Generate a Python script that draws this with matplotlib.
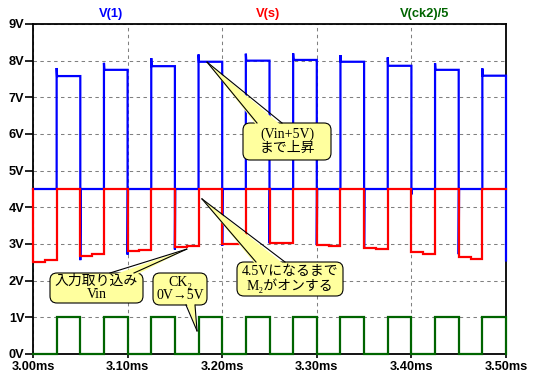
import matplotlib
matplotlib.use('Agg')
import matplotlib.pyplot as plt
from matplotlib.patches import FancyBboxPatch, Polygon
from matplotlib.lines import Line2D
from matplotlib.transforms import IdentityTransform

# ---------------- data ----------------
t_start, t_end = 3.00, 3.50
clk_rise = [3.025, 3.075, 3.125, 3.175, 3.225, 3.275, 3.325, 3.375, 3.425, 3.475]
clk_fall = [3.050, 3.100, 3.150, 3.200, 3.250, 3.300, 3.350, 3.400, 3.450, 3.500]

# V(s): sampled input level while CK2 is low (start / end of each low interval)
vin_start = [2.52, 2.68, 2.82, 2.93, 3.00, 3.02, 2.975, 2.90, 2.78, 2.64]
vin_end   = [2.56, 2.73, 2.85, 2.95, 3.00, 3.02, 2.955, 2.87, 2.74, 2.58]
vs_high = 4.5

# V(1): overshoot peak and plateau while CK2 is high, dip at falling edge
v1_spike   = [7.80, 7.94, 8.07, 8.17, 8.19, 8.20, 8.15, 8.09, 7.93, 7.79]
v1_plateau = [7.58, 7.75, 7.85, 7.97, 8.00, 8.02, 7.97, 7.86, 7.75, 7.59]
v1_dip     = [2.56, 2.71, 2.85, 2.95, 3.02, 2.98, 2.90, 4.35, 2.72, 2.55]
v1_low = 4.5

# V(ck2)/5
ck_low, ck_high = 0.0, 1.0

y_ticks = [0, 1, 2, 3, 4, 5, 6, 7, 8, 9]
y_tick_labels = ['0V', '1V', '2V', '3V', '4V', '5V', '6V', '7V', '8V', '9V']
x_ticks = [3.00, 3.10, 3.20, 3.30, 3.40, 3.50]
x_tick_labels = ['3.00ms', '3.10ms', '3.20ms', '3.30ms', '3.40ms', '3.50ms']

series_names = ['V(1)', 'V(s)', 'V(ck2)/5']
series_colors = ['#0000FF', '#FF0000', '#006400']

# ---------------- build step waveforms ----------------
dt = 0.0004
seg_start = [t_start] + clk_fall[:-1]

# V(s)
ts_t, ts_v = [t_start], [vs_high]
for k in range(len(clk_rise)):
    s, e = seg_start[k], clk_rise[k]
    m = 0.5 * (s + e)
    ts_t += [s, m, m, e, e, clk_fall[k]]
    ts_v += [vin_start[k], vin_start[k], vin_end[k], vin_end[k], vs_high, vs_high]

# V(1)
t1_t, t1_v = [t_start], [v1_low]
for k in range(len(clk_rise)):
    r, f = clk_rise[k], clk_fall[k]
    t1_t += [r, r, r + dt, f, f]
    t1_v += [v1_low, v1_spike[k], v1_plateau[k], v1_plateau[k], v1_dip[k]]
    if f + dt <= t_end:
        t1_t += [f + dt]
        t1_v += [v1_low]

# V(ck2)/5
tc_t, tc_v = [t_start], [ck_low]
for k in range(len(clk_rise)):
    r, f = clk_rise[k], clk_fall[k]
    tc_t += [r, r, f, f]
    tc_v += [ck_low, ck_high, ck_high, ck_low]

# ---------------- figure ----------------
W, H = 535, 382
fig = plt.figure(figsize=(W / 100, H / 100), dpi=100)
fig.patch.set_facecolor('white')
ax = fig.add_axes([33 / W, 1 - 354 / H, 473 / W, 330 / H])

ax.plot(t1_t, t1_v, color=series_colors[0], lw=1.6, zorder=3, clip_on=False,
        solid_joinstyle='miter')
ax.plot(ts_t, ts_v, color=series_colors[1], lw=1.6, zorder=4, clip_on=False,
        solid_joinstyle='miter')
ax.plot(tc_t, tc_v, color=series_colors[2], lw=1.6, zorder=5, clip_on=False,
        solid_joinstyle='miter')

ax.set_xlim(t_start, t_end)
ax.set_ylim(0, 9)
ax.set_xticks(x_ticks)
ax.set_xticklabels(x_tick_labels)
ax.set_yticks(y_ticks)
ax.set_yticklabels(y_tick_labels)
for lab in ax.get_xticklabels() + ax.get_yticklabels():
    lab.set_fontfamily('Liberation Sans')
    lab.set_fontweight('bold')
    lab.set_fontsize(9.2)
ax.tick_params(axis='y', direction='out', length=6, width=1.2, pad=0.3)
ax.tick_params(axis='x', direction='out', length=3, width=1.2, pad=2.2)
ax.grid(True, color='#808080', linestyle=(0, (3.3, 3.3)), linewidth=0.75, zorder=1)
ax.set_axisbelow(True)
for sp in ax.spines.values():
    sp.set_linewidth(1.3)
    sp.set_color('black')
    sp.set_zorder(2.5)

# series titles above the plot
title_x = [111, 267.6, 424.5]
for name, col, xp in zip(series_names, series_colors, title_x):
    fig.text(xp / W, 1 - 13.5 / H, name, color=col, fontsize=9.3, fontweight='bold',
             family='Liberation Sans', ha='center', va='center')

# ---------------- callouts ----------------
idt = IdentityTransform()
fill = '#FFFF9E'
cfont = ['Liberation Serif', 'Noto Sans CJK JP', 'DejaVu Sans']

callouts = [
    dict(box=(243, 123, 331, 160), base=((257, 123), (282, 123)), tip=(3.184, 7.96),
         text='(Vin+5V)\nまで上昇', inward=1),
    dict(box=(237, 262, 343, 296), base=((256, 262), (285, 262)), tip=(3.1786, 4.23),
         text='4.5Vになるまで\nM₂がオンする', inward=1),
    dict(box=(50, 273, 143, 303), base=((110, 273), (134, 273)), tip=(3.1625, 2.86),
         text='入力取り込み\nVin', inward=1),
    dict(box=(153, 273, 207, 305), base=((186, 305), (195, 305)), tip=(3.1734, 0.63),
         text='CK₂\n0V→5V', inward=-1),
]

fig.canvas.draw()
for c in callouts:
    x0, y0, x1, y1 = c['box']
    box = FancyBboxPatch((x0, H - y1), x1 - x0, y1 - y0,
                         boxstyle='round,pad=0,rounding_size=7',
                         fc=fill, ec='black', lw=0.8, transform=idt, zorder=10)
    fig.add_artist(box)
    tx, ty = ax.transData.transform(c['tip'])
    (b1x, b1y), (b2x, b2y) = c['base']
    d = 3 * c['inward']
    poly = Polygon([(tx, ty), (b1x, H - b1y - d), (b2x, H - b2y - d)], closed=True,
                   fc=fill, ec='none', transform=idt, zorder=11)
    fig.add_artist(poly)
    for bx, by in c['base']:
        fig.add_artist(Line2D([tx, bx], [ty, H - by], color='black', lw=0.8,
                              transform=idt, zorder=12))
    fig.text((x0 + x1) / 2 / W, 1 - (y0 + y1) / 2 / H, c['text'], ha='center',
             va='center', multialignment='center', fontsize=10, family=cfont,
             linespacing=1.05, color='black', zorder=13)

fig.savefig('out.png', dpi=100, facecolor='white')
